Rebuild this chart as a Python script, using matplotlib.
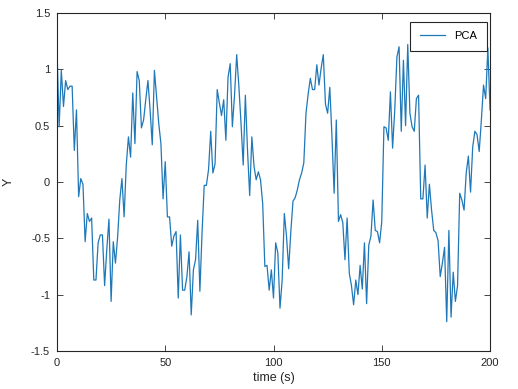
import matplotlib
matplotlib.use("Agg")
import matplotlib.pyplot as plt
import numpy as np

plt.rcParams['font.family'] = ['Liberation Sans', 'DejaVu Sans']
plt.rcParams['axes.unicode_minus'] = False

# time axis (s) and PCA component values
time = np.arange(0, 201)
pca = [
    1.18, 0.49, 0.99, 0.67, 0.90, 0.82, 0.85, 0.85, 0.28, 0.64,
    -0.13, 0.03, -0.02, -0.53, -0.28, -0.35, -0.32, -0.87, -0.87, -0.54,
    -0.47, -0.47, -0.92, -0.60, -0.33, -1.06, -0.53, -0.72, -0.49, -0.16,
    0.03, -0.31, 0.15, 0.40, 0.22, 0.79, 0.34, 0.98, 0.90, 0.48,
    0.55, 0.73, 0.90, 0.64, 0.33, 0.99, 0.76, 0.52, 0.34, -0.15,
    0.18, -0.31, -0.31, -0.57, -0.48, -0.44, -1.03, -0.47, -0.96, -0.96,
    -0.84, -0.62, -1.18, -0.78, -0.69, -0.34, -0.97, -0.45, -0.03, -0.03,
    0.11, 0.45, 0.08, 0.16, 0.82, 0.70, 0.59, 0.73, 0.37, 0.93,
    1.05, 0.49, 0.77, 1.13, 0.85, 0.52, 0.15, 0.77, 0.28, -0.12,
    0.40, 0.14, 0.02, 0.09, 0.02, -0.19, -0.75, -0.74, -0.96, -0.78,
    -1.03, -0.54, -0.63, -1.12, -0.87, -0.28, -0.48, -0.77, -0.44, -0.17,
    -0.14, -0.07, 0.02, 0.08, 0.17, 0.61, 0.78, 0.92, 0.82, 0.82,
    1.04, 0.86, 1.01, 1.13, 0.69, 0.61, 0.84, 0.40, -0.10, 0.55,
    -0.35, -0.29, -0.36, -0.69, -0.32, -0.81, -0.92, -1.09, -0.87, -1.00,
    -0.74, -0.95, -0.54, -1.08, -0.56, -0.48, -0.16, -0.43, -0.44, -0.54,
    -0.35, 0.49, 0.48, 0.37, 0.80, 0.30, 0.64, 1.11, 1.20, 0.45,
    1.08, 0.50, 1.22, 0.61, 0.49, 0.45, 0.74, 0.77, -0.15, -0.15,
    0.15, -0.32, -0.02, -0.25, -0.43, -0.45, -0.52, -0.84, -0.72, -0.58,
    -1.24, -0.43, -1.20, -0.80, -1.06, -0.92, -0.10, -0.16, -0.25, 0.08,
    0.23, -0.09, 0.31, 0.45, 0.42, 0.27, 0.55, 0.86, 0.74, 1.19,
    0.64,
]
xticks = [0, 50, 100, 150, 200]
yticks = [-1.5, -1, -0.5, 0, 0.5, 1, 1.5]
ytick_labels = ["-1.5", "-1", "-0.5", "0", "0.5", "1", "1.5"]

fig = plt.figure(figsize=(5.18, 3.89), dpi=100)
ax = fig.add_axes([0.110, 0.0977, 0.836, 0.869])

ax.plot(time, pca, color="#1f78b8", lw=0.9, label="PCA")

ax.set_xlim(0, 200)
ax.set_ylim(-1.5, 1.5)
ax.set_xticks(xticks)
ax.set_xticklabels([str(t) for t in xticks])
ax.set_yticks(yticks)
ax.set_yticklabels(ytick_labels)
ax.tick_params(direction="in", top=True, right=True, length=4, width=0.6,
               labelsize=8, colors="#262626", pad=5)
for s in ax.spines.values():
    s.set_linewidth(0.8)
    s.set_color("#262626")

ax.set_xlabel("time (s)", fontsize=9, color="#262626", labelpad=3)
ax.set_ylabel("Y", fontsize=9, color="#262626", labelpad=12)

leg = ax.legend(loc="upper right", fontsize=8, fancybox=False,
                edgecolor="#262626", framealpha=1, handlelength=2.3,
                borderpad=0.85, bbox_to_anchor=(1.005, 0.99))
leg.get_frame().set_linewidth(0.8)

fig.savefig("out.png", dpi=100)
